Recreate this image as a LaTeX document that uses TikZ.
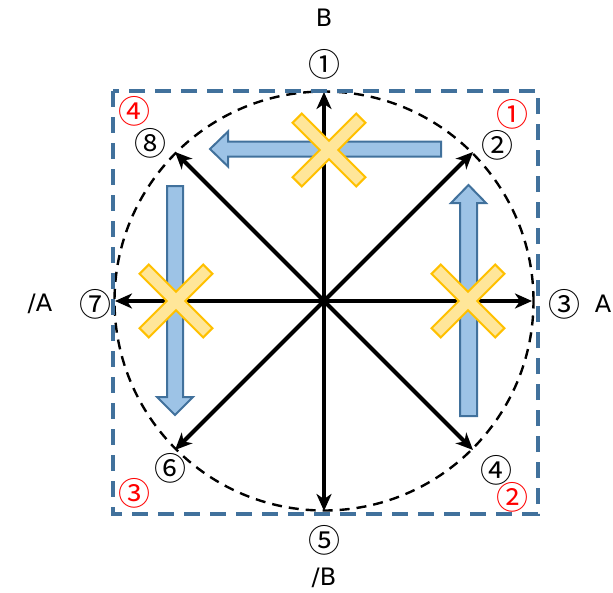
\documentclass[tikz,border=0pt]{standalone}
\usepackage{fontspec}
\setmainfont{DejaVu Sans}
\newfontfamily\cjk{Noto Sans CJK JP}
\usetikzlibrary{arrows.meta}
\definecolor{boxblue}{HTML}{41719C}
\definecolor{arrfill}{HTML}{9DC3E6}
\definecolor{xfill}{HTML}{FFE699}
\definecolor{xline}{HTML}{FFC000}
\begin{document}
\begin{tikzpicture}[x=1pt,y=-1pt,
  lab/.style={inner sep=0pt, font=\cjk\fontsize{32}{32}\selectfont},
  txt/.style={inner sep=0pt, font=\fontsize{24}{24}\selectfont},
  redlab/.style={lab, text=red},
  axis/.style={line width=4pt, -{Stealth[length=17pt,width=15pt,inset=5pt]}},
  bluearrow/.style={draw=boxblue, fill=arrfill, line width=2pt, line join=miter},
  xmark/.pic={\draw[xline, fill=xfill, line width=2pt, rotate=45]
     (6.5,45) -- (-6.5,45) -- (-6.5,6.5) -- (-45,6.5) -- (-45,-6.5) -- (-6.5,-6.5) -- (-6.5,-45)
     -- (6.5,-45) -- (6.5,-6.5) -- (45,-6.5) -- (45,6.5) -- (6.5,6.5) -- cycle;}
]
\useasboundingbox (0,0) rectangle (613,592);
\coordinate (O) at (324,301);
\coordinate (p1) at (324,92);
\coordinate (p2) at (473,152);
\coordinate (p3) at (532,301);
\coordinate (p4) at (473,450);
\coordinate (p5) at (324,511);
\coordinate (p6) at (175,450);
\coordinate (p7) at (115,301);
\coordinate (p8) at (175,152);

% dashed circle
\draw[black, line width=2.4pt, dash pattern=on 10pt off 7pt] (O) circle[radius=209.5pt];

% black arrows
\foreach \p in {p1,p2,p3,p4,p5,p6,p7,p8}
  \draw[axis] (O) -- (\p);

% dashed square
\draw[boxblue, line width=3.6pt, dash pattern=on 16pt off 10pt] (113,91) rectangle (538,514);

% blue arrows
\draw[bluearrow] (441,141.5) -- (228,141.5) -- (228,131.5) -- (210,149) -- (228,166.5) -- (228,156.5) -- (441,156.5) -- cycle;
\draw[bluearrow] (167,186) -- (167,397) -- (157,397) -- (175,415) -- (193,397) -- (183,397) -- (183,186) -- cycle;
\draw[bluearrow] (460,416) -- (460,203) -- (451,203) -- (468.5,185) -- (486,203) -- (477,203) -- (477,416) -- cycle;

% X marks
\pic at (329,150) {xmark};
\pic at (176,301) {xmark};
\pic at (468,301) {xmark};

% circled numbers
\node[lab] (n1) at (324,64) {①};
\node[lab] (n2) at (497,145) {②};
\node[lab] (n3) at (564,304) {③};
\node[lab] (n4) at (496,470) {④};
\node[lab] (n5) at (324,540) {⑤};
\node[lab] (n6) at (170,468) {⑥};
\node[lab] (n7) at (95,304) {⑦};
\node[lab] (n8) at (150,143) {⑧};

% red numbers
\node[redlab] (r1) at (512,114) {①};
\node[redlab] (r2) at (512,497) {②};
\node[redlab] (r3) at (134,493) {③};
\node[redlab] (r4) at (134,111) {④};

% letters
\node[txt] (tB) at (324,18) {B};
\node[txt] (tnB) at (324,578) {/B};
\node[txt] (tA) at (603,304) {A};
\node[txt] (tnA) at (40,304) {/A};
\end{tikzpicture}
\end{document}
